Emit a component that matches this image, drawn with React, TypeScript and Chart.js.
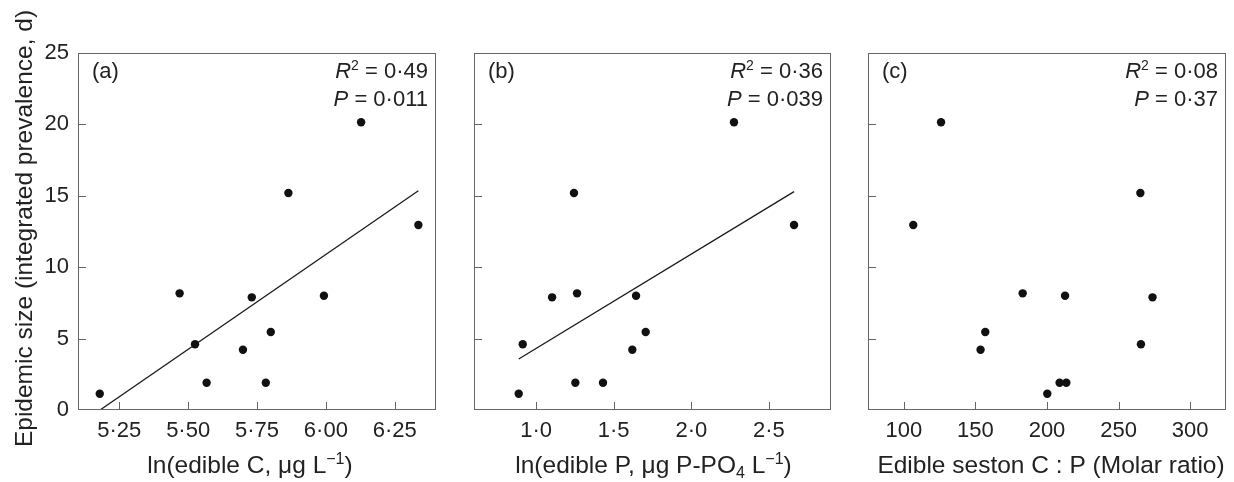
import React, { useEffect, useRef } from 'react';
import { Chart, registerables } from 'chart.js';

Chart.register(...registerables);

// ---------- data ----------
const epidemicSize = [20.15, 15.2, 12.96, 1.14, 4.6, 8.17, 7.89, 8.0, 5.46, 4.22, 1.91, 1.91];
const lnEdibleC = [6.128, 5.864, 6.336, 5.179, 5.525, 5.469, 5.731, 5.993, 5.8, 5.699, 5.567, 5.782];
const lnEdibleP = [2.275, 1.244, 2.662, 0.888, 0.914, 1.264, 1.103, 1.644, 1.706, 1.62, 1.253, 1.431];
const sestonCP = [126.0, 265.2, 106.6, 200.2, 265.6, 183.0, 273.7, 212.6, 156.9, 153.6, 208.8, 213.5];

const fitCx = [5.18, 6.336];
const fitCy = [0.0, 15.35];
const fitPx = [0.888, 2.662];
const fitPy = [3.57, 15.29];

const yTicks = [0, 5, 10, 15, 20, 25];
const xTicksA = [5.25, 5.5, 5.75, 6.0, 6.25];
const xTicksB = [1.0, 1.5, 2.0, 2.5];
const xTicksC = [100, 150, 200, 250, 300];

const panelLetters = ['(a)', '(b)', '(c)'];
const r2Values = ['0·49', '0·36', '0·08'];
const pValues = ['0·011', '0·039', '0·37'];
const yTitle = 'Epidemic size (integrated prevalence, d)';

const FONT = "'Liberation Sans', Arial, Helvetica, sans-serif";
const W = 1234;
const H = 482;

type Seg = { t: string; italic?: boolean; sup?: boolean; sub?: boolean };

const xTitles: Seg[][] = [
  [{ t: 'ln(edible C, μg L' }, { t: '−1', sup: true }, { t: ')' }],
  [{ t: 'ln(edible P, μg P-PO' }, { t: '4', sub: true }, { t: ' L' }, { t: '−1', sup: true }, { t: ')' }],
  [{ t: 'Edible seston C : P (Molar ratio)' }],
];

function drawRich(ctx: CanvasRenderingContext2D, segs: Seg[], x: number, y: number, size: number, align: string) {
  const small = Math.round(size * 0.64);
  const fontFor = (s: Seg) => `${s.italic ? 'italic ' : ''}${s.sup || s.sub ? small : size}px ${FONT}`;
  const widths = segs.map((s) => {
    ctx.font = fontFor(s);
    return ctx.measureText(s.t).width;
  });
  const total = widths.reduce((a, b) => a + b, 0);
  let cx = align === 'right' ? x - total : align === 'center' ? x - total / 2 : x;
  ctx.textAlign = 'left';
  ctx.textBaseline = 'alphabetic';
  segs.forEach((s, i) => {
    ctx.font = fontFor(s);
    const dy = s.sup ? -size * 0.38 : s.sub ? size * 0.22 : 0;
    ctx.fillText(s.t, cx, y + dy);
    cx += widths[i];
  });
}

type Panel = {
  xs: number[];
  fitX: number[] | null;
  fitY: number[] | null;
  xMin: number;
  xMax: number;
  xTicks: number[];
  fmt: (v: number) => string;
  left: number;
  right: number;
  yAxisW: number;
  showY: boolean;
  titleShift: number;
  idx: number;
};

const panels: Panel[] = [
  { xs: lnEdibleC, fitX: fitCx, fitY: fitCy, xMin: 5.1, xMax: 6.4, xTicks: xTicksA, fmt: (v) => v.toFixed(2).replace('.', '·'), left: 78, right: 436, yAxisW: 78, showY: true, titleShift: -7, idx: 0 },
  { xs: lnEdibleP, fitX: fitPx, fitY: fitPy, xMin: 0.6, xMax: 2.9, xTicks: xTicksB, fmt: (v) => v.toFixed(1).replace('.', '·'), left: 474, right: 831, yAxisW: 0, showY: false, titleShift: 1, idx: 1 },
  { xs: sestonCP, fitX: null, fitY: null, xMin: 75, xMax: 325, xTicks: xTicksC, fmt: (v) => String(Math.round(v)), left: 868, right: 1226, yAxisW: 0, showY: false, titleShift: 4, idx: 2 },
];

function makeChart(canvas: HTMLCanvasElement, p: Panel) {
  const scatter = p.xs.map((x, i) => ({ x, y: epidemicSize[i] }));
  const datasets: any[] = [
    {
      type: 'scatter',
      data: scatter,
      pointRadius: 4.2,
      pointBackgroundColor: '#111',
      pointBorderWidth: 0,
      order: 1,
    },
  ];
  if (p.fitX && p.fitY) {
    datasets.push({
      type: 'line',
      data: p.fitX.map((x, i) => ({ x, y: p.fitY![i] })),
      borderColor: '#1a1a1a',
      borderWidth: 1.3,
      pointRadius: 0,
      fill: false,
      order: 2,
    });
  }

  const decor = {
    id: 'decor',
    afterDraw(chart: any) {
      const { ctx, chartArea: a, scales } = chart;
      ctx.save();
      // frame
      ctx.strokeStyle = '#666';
      ctx.lineWidth = 1;
      ctx.strokeRect(a.left + 0.5, a.top + 0.5, a.right - a.left - 1, a.bottom - a.top - 1);
      // inward tick marks
      ctx.beginPath();
      scales.x.ticks.forEach((t: any) => {
        const px = Math.round(scales.x.getPixelForValue(t.value)) + 0.5;
        ctx.moveTo(px, a.bottom);
        ctx.lineTo(px, a.bottom - 8);
      });
      scales.y.ticks.forEach((t: any) => {
        if (t.value === 0 || t.value === 25) return;
        const py = Math.round(scales.y.getPixelForValue(t.value)) + 0.5;
        ctx.moveTo(a.left, py);
        ctx.lineTo(a.left + 8, py);
      });
      ctx.stroke();

      ctx.fillStyle = '#222';
      // panel letter
      drawRich(ctx, [{ t: panelLetters[p.idx] }], a.left + 14, a.top + 25, 22, 'left');
      // stats
      drawRich(ctx, [{ t: 'R', italic: true }, { t: '2', sup: true }, { t: ' = ' + r2Values[p.idx] }], a.right - 8, a.top + 25, 22, 'right');
      drawRich(ctx, [{ t: 'P', italic: true }, { t: ' = ' + pValues[p.idx] }], a.right - 8, a.top + 53, 22, 'right');
      // x title
      drawRich(ctx, xTitles[p.idx], (a.left + a.right) / 2 + p.titleShift, 473, 24.5, 'center');
      // y title
      if (p.showY) {
        ctx.save();
        ctx.translate(32, (a.top + a.bottom) / 2 - 3);
        ctx.rotate(-Math.PI / 2);
        ctx.font = `24.5px ${FONT}`;
        ctx.textAlign = 'center';
        ctx.textBaseline = 'alphabetic';
        ctx.fillText(yTitle, 0, 0);
        ctx.restore();
      }
      ctx.restore();
    },
  };

  return new Chart(canvas, {
    type: 'scatter',
    data: { datasets },
    plugins: [decor],
    options: {
      animation: false,
      responsive: false,
      maintainAspectRatio: false,
      layout: { padding: { left: p.left - p.yAxisW, right: W - p.right, top: 53, bottom: 0 } },
      plugins: { legend: { display: false }, tooltip: { enabled: false }, title: { display: false } },
      scales: {
        x: {
          type: 'linear',
          min: p.xMin,
          max: p.xMax,
          grid: { display: false, drawTicks: false },
          border: { display: false },
          afterBuildTicks: (s: any) => {
            s.ticks = p.xTicks.map((v) => ({ value: v }));
          },
          afterFit: (s: any) => {
            s.height = 72;
          },
          ticks: {
            autoSkip: false,
            maxRotation: 0,
            padding: 8,
            color: '#222',
            font: { size: 22, family: FONT },
            callback: (v: any) => p.fmt(Number(v)),
          },
        },
        y: {
          type: 'linear',
          min: 0,
          max: 25,
          grid: { display: false, drawTicks: false },
          border: { display: false },
          afterBuildTicks: (s: any) => {
            s.ticks = yTicks.map((v) => ({ value: v }));
          },
          afterFit: (s: any) => {
            s.width = p.yAxisW;
          },
          ticks: {
            display: p.showY,
            padding: 9,
            color: '#222',
            font: { size: 22, family: FONT },
            callback: (v: any) => String(v),
          },
        },
      },
    } as any,
  });
}

function PanelCanvas({ p }: { p: Panel }) {
  const ref = useRef<HTMLCanvasElement | null>(null);
  useEffect(() => {
    if (!ref.current) return;
    const chart = makeChart(ref.current, p);
    return () => chart.destroy();
  }, [p]);
  return (
    <canvas
      ref={ref}
      width={W}
      height={H}
      style={{ position: 'absolute', left: 0, top: 0, width: W, height: H }}
    />
  );
}

export default function App() {
  return (
    <div style={{ position: 'fixed', left: 0, top: 0, width: W, height: H, background: '#fff', overflow: 'hidden' }}>
      {panels.map((p) => (
        <PanelCanvas key={p.idx} p={p} />
      ))}
    </div>
  );
}
